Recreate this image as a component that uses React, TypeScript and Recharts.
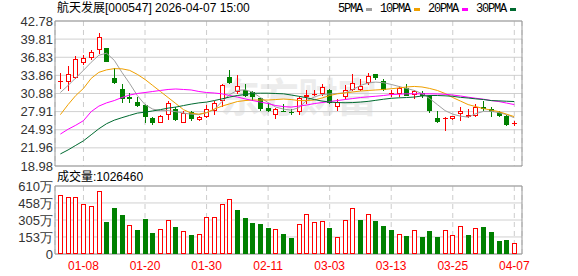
import React from "react";
import {
  ComposedChart,
  Bar,
  Line,
  XAxis,
  YAxis,
  CartesianGrid,
  ReferenceArea,
} from "recharts";

// trading days shown (2026)
const dates = [
  "01-05", "01-06", "01-07", "01-08", "01-09", "01-12", "01-13", "01-14", "01-15", "01-16",
  "01-19", "01-20", "01-21", "01-22", "01-23", "01-26", "01-27", "01-28", "01-29", "01-30",
  "02-02", "02-03", "02-04", "02-05", "02-06", "02-09", "02-10", "02-11", "02-12", "02-13",
  "02-24", "02-25", "02-26", "02-27", "03-02", "03-03", "03-04", "03-05", "03-06", "03-09",
  "03-10", "03-11", "03-12", "03-13", "03-16", "03-17", "03-18", "03-19", "03-20", "03-23",
  "03-24", "03-25", "03-26", "03-27", "03-30", "03-31", "04-01", "04-02", "04-03", "04-07",
];

const openP = [
  32.85, 32.75, 33.47, 35.89, 36.78, 37.99, 38.32, 33.47, 31.66, 30.3,
  29.56, 29.06, 26.8, 26.04, 27.36, 28.35, 26.04, 27.79, 26.53, 26.96,
  28.07, 29.72, 33.58, 31.1, 31.49, 31.1, 30.1, 28.51, 27.36, 28.0,
  27.8, 27.9, 30.27, 30.65, 30.83, 31.49, 28.73, 30.27, 31.38, 31.49,
  32.58, 34.02, 32.91, 30.88, 30.83, 31.82, 30.71, 30.93, 30.55, 26.86,
  26.85, 26.75, 27.52, 27.08, 27.13, 28.73, 28.35, 27.79, 27.25, 25.95,
];
const highP = [
  34.3, 35.34, 36.99, 37.21, 38.1, 40.75, 38.35, 35.13, 32.48, 31.0,
  30.38, 29.2, 26.96, 27.35, 29.72, 28.73, 28.07, 27.95, 27.2, 29.06,
  29.72, 32.48, 34.68, 33.85, 32.48, 31.37, 30.15, 29.28, 28.51, 29.2,
  28.35, 30.27, 31.49, 31.49, 32.48, 31.66, 30.0, 32.2, 34.02, 33.31,
  34.3, 34.05, 33.31, 31.49, 32.04, 32.37, 31.49, 31.37, 30.6, 28.07,
  27.0, 27.25, 28.73, 28.35, 29.18, 29.6, 28.62, 28.07, 27.3, 26.3,
];
const lowP = [
  31.54, 31.37, 33.19, 35.51, 36.45, 37.44, 36.0, 32.37, 29.28, 29.3,
  28.73, 25.97, 25.76, 26.0, 26.58, 26.42, 26.0, 26.3, 26.4, 26.86,
  27.4, 28.73, 32.5, 30.83, 30.27, 29.72, 27.95, 27.9, 26.7, 27.8,
  27.4, 27.36, 29.18, 30.55, 30.55, 29.18, 28.07, 30.0, 31.26, 31.37,
  32.2, 33.03, 31.26, 30.27, 30.38, 30.5, 30.0, 30.17, 27.62, 26.04,
  24.76, 26.6, 26.4, 26.86, 27.08, 28.07, 27.08, 26.96, 25.6, 25.6,
];
const closeP = [
  32.95, 34.02, 36.61, 36.78, 37.71, 40.09, 36.05, 32.58, 29.9, 30.0,
  28.9, 26.96, 26.04, 27.19, 29.34, 26.53, 27.69, 26.7, 27.08, 28.35,
  29.34, 32.32, 32.58, 32.04, 30.45, 30.3, 28.35, 27.95, 28.35, 27.9,
  27.7, 30.1, 30.71, 30.78, 31.92, 29.35, 29.5, 31.49, 32.65, 32.04,
  33.75, 33.47, 31.49, 30.95, 31.82, 30.55, 31.26, 30.55, 27.95, 26.25,
  26.9, 27.13, 28.07, 27.41, 28.62, 28.35, 27.79, 27.13, 25.76, 26.0,
];

// volume, in 万
const volume = [
  530, 512, 512, 449, 431, 563, 291, 416, 351, 259,
  217, 315, 184, 226, 306, 244, 202, 172, 179, 336,
  330, 449, 491, 396, 324, 280, 271, 235, 223, 181,
  146, 268, 360, 288, 295, 235, 152, 304, 411, 306,
  360, 297, 253, 217, 181, 163, 217, 154, 202, 154,
  217, 170, 253, 172, 235, 244, 193, 121, 128, 102.6,
];

const ma5 = [
  31.04, 32.2, 33.44, 34.68, 36.0, 37.16, 37.49, 36.33, 34.35, 32.53,
  30.55, 29.06, 28.32, 28.07, 28.07, 27.9, 27.66, 27.49, 27.41, 27.74,
  28.23, 29.56, 30.71, 31.38, 31.49, 31.09, 30.22, 29.39, 28.65, 28.32,
  28.15, 28.56, 29.72, 30.3, 30.71, 30.8, 30.88, 31.0, 31.54, 32.2,
  32.61, 32.75, 32.65, 32.37, 32.04, 31.71, 31.38, 30.88, 30.05, 29.06,
  28.07, 27.49, 27.16, 27.0, 27.57, 27.95, 27.95, 27.74, 27.41, 26.9,
];
const ma10 = [
  27.41, 29.06, 30.55, 31.71, 33.36, 34.35, 34.76, 34.96, 34.93, 34.68,
  34.02, 33.19, 32.2, 31.21, 30.22, 29.23, 28.23, 27.66, 27.49, 27.74,
  28.32, 28.81, 29.18, 29.56, 29.72, 29.81, 29.81, 29.81, 29.89, 29.97,
  29.89, 29.72, 29.72, 29.81, 30.14, 30.55, 30.83, 30.96, 31.13, 31.29,
  31.38, 31.46, 31.54, 31.66, 31.79, 31.95, 32.04, 31.95, 31.71, 31.38,
  30.88, 30.22, 29.64, 29.06, 28.73, 28.4, 28.15, 27.9, 27.49, 27.08,
];
const ma20 = [
  24.22, 25.01, 25.67, 26.42, 27.9, 28.81, 29.34, 29.72, 30.22, 30.63,
  30.88, 31.04, 31.21, 31.38, 31.54, 31.62, 31.54, 31.46, 31.21, 31.04,
  30.96, 30.83, 30.55, 30.3, 30.0, 29.72, 29.47, 29.23, 28.9, 28.73,
  28.65, 28.81, 28.98, 29.23, 29.39, 29.56, 29.72, 29.89, 30.05, 30.22,
  30.33, 30.43, 30.55, 30.71, 30.76, 30.83, 30.83, 30.83, 30.83, 30.8,
  30.75, 30.63, 30.47, 30.27, 30.1, 29.94, 29.72, 29.56, 29.31, 29.06,
];
const ma30 = [
  20.96, 21.62, 22.37, 23.11, 24.1, 25.09, 25.92, 26.5, 26.91, 27.29,
  27.66, 27.82, 28.02, 28.23, 28.48, 28.65, 28.9, 29.14, 29.34, 29.47,
  29.72, 30.0, 30.3, 30.55, 30.71, 30.91, 30.93, 30.93, 30.88, 30.83,
  30.63, 30.42, 30.19, 29.89, 29.64, 29.47, 29.39, 29.36, 29.39, 29.47,
  29.59, 29.76, 29.94, 30.09, 30.17, 30.22, 30.3, 30.47, 30.55, 30.55,
  30.5, 30.42, 30.25, 30.14, 30.0, 29.89, 29.72, 29.67, 29.61, 29.56,
];

const priceTicks = [18.98, 21.96, 24.93, 27.91, 30.88, 33.86, 36.83, 39.81, 42.78];
const volTicks = [0, 153, 305, 458, 610];
const dateTickIdx = [3, 11, 19, 27, 35, 43, 51, 59];

const RED = "#ff0000";
const GREEN = "#008000";
const MA_COLORS = { ma5: "#a0a0a0", ma10: "#f0a000", ma20: "#ff00ff", ma30: "#006a30" };

const data = dates.map((d, i) => ({
  i,
  date: d,
  open: openP[i],
  high: highP[i],
  low: lowP[i],
  close: closeP[i],
  range: [lowP[i], highP[i]],
  vol: volume[i],
  volUp: i === 0 || closeP[i] >= closeP[i - 1],
  ma5: ma5[i],
  ma10: ma10[i],
  ma20: ma20[i],
  ma30: ma30[i],
}));

const axisTick = { fontSize: 13, fill: "#333", fontFamily: "Liberation Sans, Arial" };

function Candle(props: any) {
  const { x, y, width, height, payload } = props;
  if (x == null || y == null || !payload) return null;
  const { open, close, high, low } = payload;
  const top = Math.min(y, y + height);
  const h = Math.abs(height);
  const k = h / (high - low);
  const yo = top + (high - open) * k;
  const yc = top + (high - close) * k;
  const cx = Math.round(x + width / 2) + 0.5;
  const up = close >= open;
  const color = up ? RED : GREEN;
  const bTop = Math.round(Math.min(yo, yc));
  const bBot = Math.max(Math.round(Math.max(yo, yc)), bTop + 1);
  let body;
  if (up && bBot - bTop <= 1) {
    body = <line x1={cx - 2.5} x2={cx + 2.5} y1={bTop + 0.5} y2={bTop + 0.5} stroke={color} />;
  } else if (up) {
    body = (
      <rect x={cx - 2} y={bTop + 0.5} width={4} height={bBot - bTop - 1} fill="#fff" stroke={color} />
    );
  } else {
    body = <rect x={cx - 2.5} y={bTop} width={5} height={bBot - bTop} fill={color} />;
  }
  return (
    <g>
      <line x1={cx} x2={cx} y1={Math.round(top)} y2={Math.round(top + h)} stroke={color} />
      {body}
    </g>
  );
}

function VolBar(props: any) {
  const { x, y, width, height, payload } = props;
  if (x == null || y == null || !payload) return null;
  const cx = Math.round(x + width / 2) + 0.5;
  const top = Math.round(Math.min(y, y + height));
  const bot = Math.round(Math.max(y, y + height));
  if (payload.volUp) {
    return (
      <rect x={cx - 2} y={top + 0.5} width={4} height={Math.max(bot - top - 1, 0)} fill="#fff" stroke={RED} />
    );
  }
  return <rect x={cx - 2.5} y={top} width={5} height={bot - top} fill={GREEN} />;
}

const legendItems = [
  { label: "5PMA", color: MA_COLORS.ma5 },
  { label: "10PMA", color: MA_COLORS.ma10 },
  { label: "20PMA", color: MA_COLORS.ma20 },
  { label: "30PMA", color: MA_COLORS.ma30 },
];

export default function App() {
  return (
    <div
      style={{
        position: "absolute",
        left: 0,
        top: 0,
        width: 578,
        height: 276,
        background: "#fff",
        overflow: "hidden",
      }}
    >
      {/* watermark */}
      <div
        style={{
          position: "absolute",
          left: 220,
          top: 70,
          fontSize: 40,
          fontWeight: 700,
          color: "#ececec",
          fontFamily: "Noto Sans CJK SC",
          letterSpacing: -1,
          lineHeight: "50px",
        }}
      >
        东方财富
      </div>

      <div
        style={{
          position: "absolute",
          left: 57,
          top: 1,
          fontSize: 12,
          lineHeight: "14px",
          color: "#000",
          fontFamily: "Liberation Sans, Noto Sans CJK SC",
          whiteSpace: "nowrap",
        }}
      >
        航天发展[000547] 2026-04-07 15:00
      </div>

      <div
        style={{
          position: "absolute",
          left: 338,
          top: 2,
          display: "flex",
          alignItems: "center",
          fontSize: 12,
          lineHeight: "14px",
          letterSpacing: -1.2,
          fontFamily: "Liberation Mono, monospace",
          color: "#000",
          whiteSpace: "nowrap",
        }}
      >
        {legendItems.map((it) => (
          <span key={it.label} style={{ display: "flex", alignItems: "center", marginRight: 8 }}>
            <span>{it.label}</span>
            <span
              style={{ display: "inline-block", width: 6, height: 3, background: it.color, marginLeft: 4 }}
            />
          </span>
        ))}
      </div>

      <div style={{ position: "absolute", left: 0, top: 0 }}>
        <ComposedChart
          width={578}
          height={174}
          data={data}
          margin={{ top: 21, right: 56, bottom: 8, left: 0 }}
        >
          <CartesianGrid vertical={false} stroke="#d0d0d0" />
          <CartesianGrid horizontal={false} stroke="#cccccc" strokeDasharray="5 4" />
          <XAxis
            dataKey="i"
            type="number"
            domain={[-0.7, 60]}
            ticks={dateTickIdx}
            hide
          />
          <YAxis
            type="number"
            domain={[18.98, 42.78]}
            ticks={priceTicks}
            interval={0}
            width={55}
            axisLine={false}
            tickLine={false}
            tickSize={0}
            tickMargin={2}
            tick={axisTick}
            tickFormatter={(v: number) => v.toFixed(2)}
          />
          <ReferenceArea x1={-0.7} x2={60} y1={18.98} y2={42.78} fill="none" stroke="#999" />
          <Bar dataKey="range" barSize={5} shape={<Candle />} isAnimationActive={false} />
          <Line type="linear" dataKey="ma5" stroke={MA_COLORS.ma5} dot={false} strokeWidth={1} isAnimationActive={false} />
          <Line type="linear" dataKey="ma10" stroke={MA_COLORS.ma10} dot={false} strokeWidth={1} isAnimationActive={false} />
          <Line type="linear" dataKey="ma20" stroke={MA_COLORS.ma20} dot={false} strokeWidth={1} isAnimationActive={false} />
          <Line type="linear" dataKey="ma30" stroke={MA_COLORS.ma30} dot={false} strokeWidth={1} isAnimationActive={false} />
        </ComposedChart>
      </div>

      <div
        style={{
          position: "absolute",
          left: 57,
          top: 170,
          fontSize: 12,
          lineHeight: "14px",
          color: "#000",
          fontFamily: "Liberation Sans, Noto Sans CJK SC",
          whiteSpace: "nowrap",
        }}
      >
        成交量:1026460
      </div>

      <div style={{ position: "absolute", left: 0, top: 176 }}>
        <ComposedChart
          width={578}
          height={100}
          data={data}
          margin={{ top: 10, right: 56, bottom: 2, left: 0 }}
        >
          <CartesianGrid vertical={false} stroke="#d0d0d0" />
          <CartesianGrid horizontal={false} stroke="#cccccc" strokeDasharray="5 4" />
          <XAxis
            dataKey="i"
            type="number"
            domain={[-0.7, 60]}
            ticks={dateTickIdx}
            interval={0}
            height={20}
            axisLine={false}
            tickLine={false}
            tickSize={6}
            tickMargin={1}
            tick={{ fontSize: 12, fill: RED, fontFamily: "Liberation Sans, Arial" }}
            tickFormatter={(v: number) => dates[v]}
          />
          <YAxis
            type="number"
            domain={[0, 610]}
            ticks={volTicks}
            interval={0}
            width={55}
            axisLine={false}
            tickLine={false}
            tickSize={0}
            tickMargin={2}
            tick={axisTick}
            tickFormatter={(v: number) => (v === 0 ? "0" : `${v}万`)}
          />
          <ReferenceArea x1={-0.7} x2={60} y1={0} y2={610} fill="none" stroke="#999" />
          <Bar dataKey="vol" barSize={5} shape={<VolBar />} isAnimationActive={false} />
        </ComposedChart>
      </div>
    </div>
  );
}
